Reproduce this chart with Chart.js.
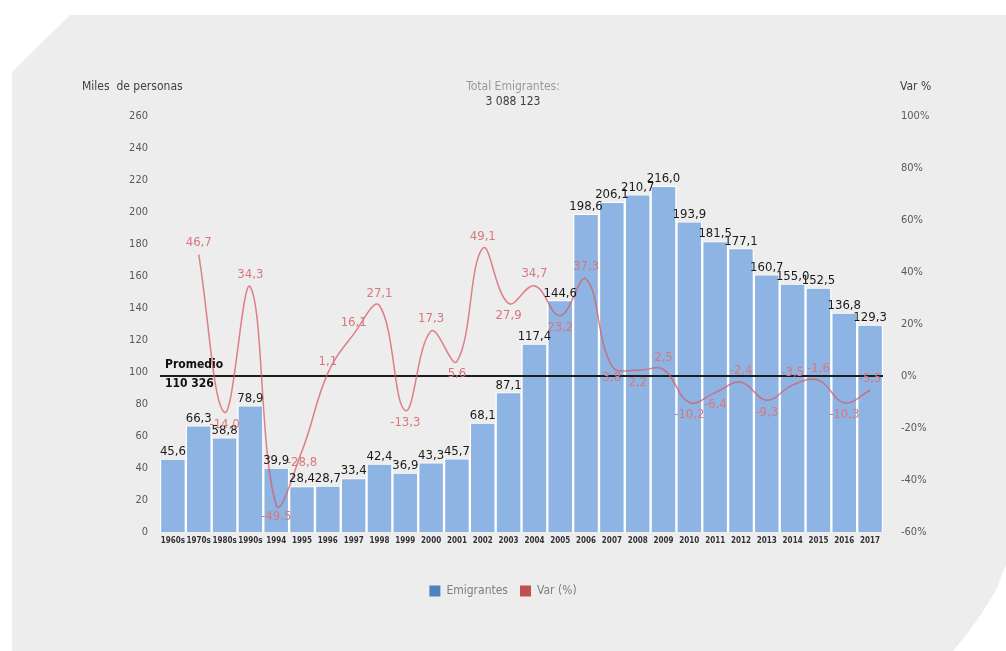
<html>
<head>
  <title>Emigrantes</title>
  <script src="https://cdn.jsdelivr.net/npm/chart.js"></script>
  <style>
    body { margin: 0; background: #ffffff; }
    #panel {
      position: absolute; left: 0; top: 0; width: 1006px; height: 651px;
      background: #ededed;
      clip-path: polygon(70px 15px, 1006px 15px, 1006px 565px, 996px 590px, 982px 613px, 967px 634px, 953px 651px, 12px 651px, 12px 72px);
    }
    #wrap { position: absolute; left: 0; top: 0; width: 1006px; height: 651px; }
  </style>
</head>
<body>
  <div id="panel"></div>
  <div id="wrap"><canvas id="emigChart"></canvas></div>

  <script>
    const periodos = ["1960s", "1970s", "1980s", "1990s", "1994", "1995", "1996", "1997", "1998", "1999",
      "2000", "2001", "2002", "2003", "2004", "2005", "2006", "2007", "2008", "2009",
      "2010", "2011", "2012", "2013", "2014", "2015", "2016", "2017"];
    const emigrantes = [45.6, 66.3, 58.8, 78.9, 39.9, 28.4, 28.7, 33.4, 42.4, 36.9,
      43.3, 45.7, 68.1, 87.1, 117.4, 144.6, 198.6, 206.1, 210.7, 216.0,
      193.9, 181.5, 177.1, 160.7, 155.0, 152.5, 136.8, 129.3];
    const variacion = [null, 46.7, -14.0, 34.3, -49.5, -28.8, 1.1, 16.1, 27.1, -13.3,
      17.3, 5.6, 49.1, 27.9, 34.7, 23.2, 37.3, 3.8, 2.2, 2.5,
      -10.2, -6.4, -2.4, -9.3, -3.5, -1.6, -10.3, -5.5];
    const totalEmigrantes = "3 088 123";
    const promedio = "110 326";

    const FONT = "'Liberation Sans Narrow', 'DejaVu Sans Condensed', Arial, sans-serif";
    const fmt = v => v.toFixed(1).replace('.', ',');

    const labelsPlugin = {
      id: 'labelsPlugin',
      afterDatasetDraw(chart, args) {
        // linea de promedio / 0% sobre las barras
        if (args.meta.type !== 'bar') return;
        const ctx = chart.ctx;
        const area = chart.chartArea;
        const y0 = chart.scales.y1.getPixelForValue(0);
        ctx.save();
        ctx.strokeStyle = '#1e1e1e';
        ctx.lineWidth = 2;
        ctx.beginPath();
        ctx.moveTo(area.left, y0);
        ctx.lineTo(area.right, y0);
        ctx.stroke();
        ctx.fillStyle = '#111';
        ctx.font = "bold 12px " + FONT;
        ctx.textAlign = 'left';
        ctx.textBaseline = 'middle';
        ctx.fillText('Promedio', area.left + 5, y0 - 11);
        ctx.fillText(promedio, area.left + 5, y0 + 8);
        ctx.restore();
      },
      afterDatasetsDraw(chart) {
        const ctx = chart.ctx;
        const barMeta = chart.getDatasetMeta(0);
        const lineMeta = chart.getDatasetMeta(1);
        ctx.save();
        ctx.textAlign = 'center';
        ctx.textBaseline = 'bottom';
        ctx.font = "13px " + FONT;
        ctx.fillStyle = '#1a1a1a';
        barMeta.data.forEach((bar, i) => {
          ctx.fillText(fmt(emigrantes[i]), bar.x, bar.y - 1);
        });
        ctx.font = "13px " + FONT;
        ctx.fillStyle = '#d9777e';
        ctx.textBaseline = 'middle';
        lineMeta.data.forEach((pt, i) => {
          const v = variacion[i];
          if (v === null) return;
          const prev = variacion[i - 1] === null || variacion[i - 1] === undefined ? v : variacion[i - 1];
          const next = variacion[i + 1] === undefined ? v : variacion[i + 1];
          const above = v >= (prev + next) / 2;
          ctx.fillText(fmt(v), pt.x, pt.y + (above ? -12 : 12));
        });
        // titulos
        ctx.font = "12px " + FONT;
        ctx.fillStyle = '#404040';
        ctx.textAlign = 'left';
        ctx.fillText('Miles  de personas', 82, 87);
        ctx.fillText('Var %', 900, 87);
        ctx.textAlign = 'center';
        ctx.fillStyle = '#9a9a9a';
        ctx.fillText('Total Emigrantes:', 513, 87);
        ctx.fillStyle = '#404040';
        ctx.fillText(totalEmigrantes, 513, 102);
        ctx.restore();
      }
    };

    const ctx = document.getElementById('emigChart').getContext('2d');
    new Chart(ctx, {
      data: {
        labels: periodos,
        datasets: [{
          type: 'bar',
          label: 'Emigrantes',
          data: emigrantes,
          yAxisID: 'y',
          backgroundColor: '#8eb4e3',
          borderColor: '#ffffff',
          borderWidth: { left: 1.5, right: 1.5, top: 1, bottom: 0 },
          borderSkipped: false,
          barPercentage: 1,
          categoryPercentage: 1,
          order: 2
        }, {
          type: 'line',
          label: 'Var (%)',
          data: variacion,
          yAxisID: 'y1',
          borderColor: 'rgba(215, 90, 100, 0.75)',
          backgroundColor: '#c0504d',
          borderWidth: 1.5,
          pointRadius: 0,
          tension: 0.4,
          order: 1
        }]
      },
      options: {
        responsive: true,
        maintainAspectRatio: false,
        animation: false,
        layout: { padding: { top: 116, bottom: 44, left: 0, right: 0 } },
        plugins: {
          tooltip: { enabled: false },
          legend: {
            position: 'bottom',
            labels: {
              boxWidth: 11,
              boxHeight: 11,
              padding: 12,
              color: '#7f7f7f',
              font: { size: 12, family: FONT },
              generateLabels: chart => chart.data.datasets.map((ds, i) => ({
                text: ds.label,
                fillStyle: i === 0 ? '#4f81bd' : '#c0504d',
                strokeStyle: i === 0 ? '#4f81bd' : '#c0504d',
                lineWidth: 0,
                fontColor: '#7f7f7f',
                datasetIndex: i
              }))
            }
          }
        },
        scales: {
          x: {
            grid: { display: false, drawTicks: false },
            border: { display: false },
            ticks: { color: '#333', font: { size: 8, family: FONT, weight: 'bold' }, padding: 4, maxRotation: 0, autoSkip: false },
            afterFit: s => { s.height = 41; }
          },
          y: {
            position: 'left',
            min: 0, max: 260,
            grid: { display: false, drawTicks: false },
            border: { display: false },
            ticks: { stepSize: 20, color: '#595959', padding: 12, font: { size: 11, family: FONT } },
            afterFit: s => { s.width = 160; }
          },
          y1: {
            position: 'right',
            min: -60, max: 100,
            grid: { display: false, drawTicks: false },
            border: { display: false },
            ticks: { stepSize: 20, color: '#595959', padding: 18, font: { size: 11, family: FONT }, callback: v => v + '%' },
            afterFit: s => { s.width = 123; }
          }
        }
      },
      plugins: [labelsPlugin]
    });
  </script>
</body>
</html>
